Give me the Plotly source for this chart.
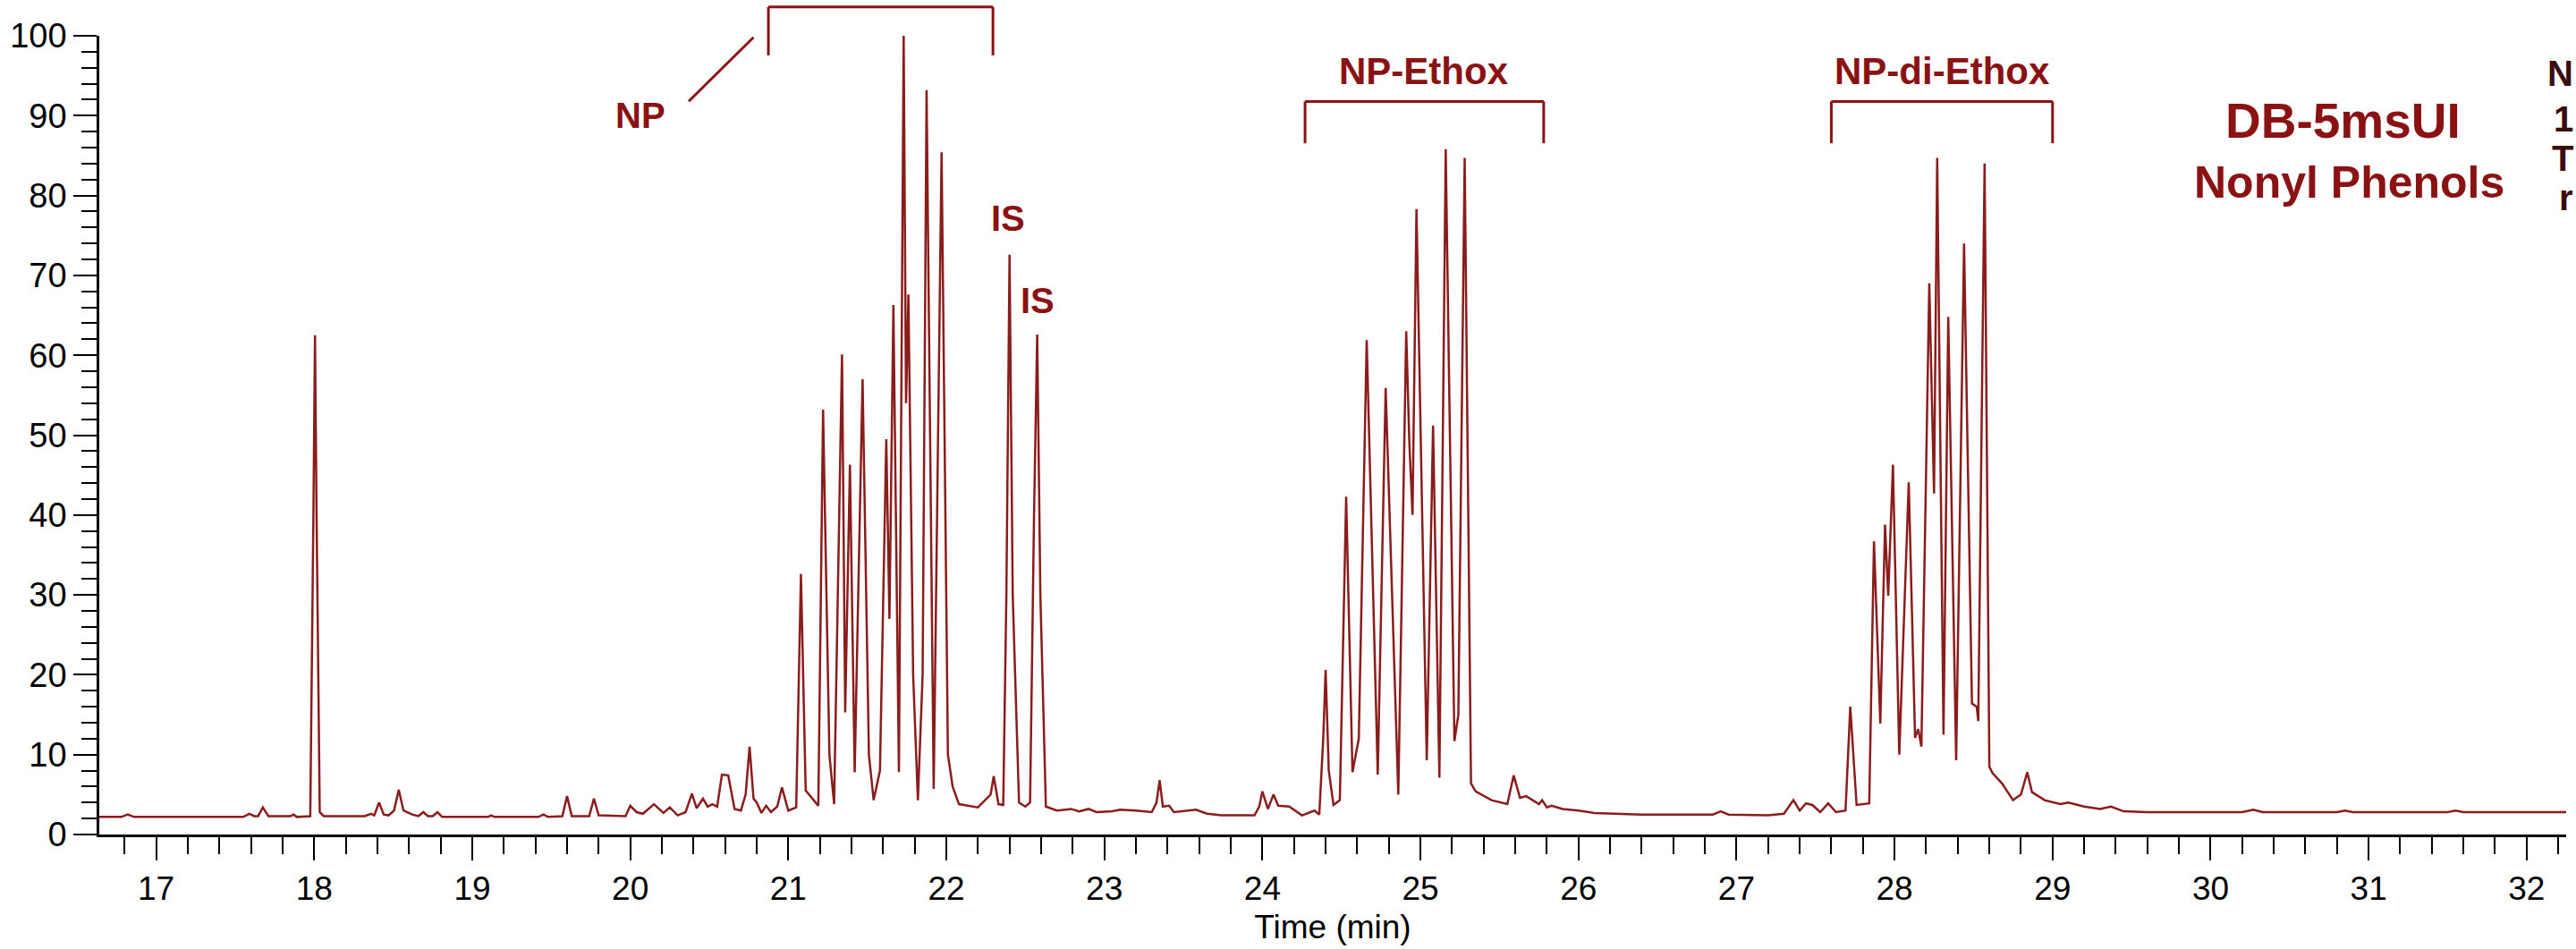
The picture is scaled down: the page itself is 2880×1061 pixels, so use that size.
import plotly.graph_objects as go

# Chromatogram trace vertices (time in min, relative abundance)
time_min = [
    16.64, 16.78, 16.82, 16.86, 17.55, 17.59, 17.62, 17.645, 17.675, 17.71,
    17.85, 17.87, 17.89, 17.975, 17.995, 18.005, 18.015, 18.035, 18.06, 18.32,
    18.36, 18.38, 18.41, 18.44, 18.47, 18.505, 18.535, 18.565, 18.62, 18.66,
    18.69, 18.72, 18.75, 18.78, 18.81, 19.10, 19.12, 19.14, 19.42, 19.45,
    19.48, 19.57, 19.60, 19.63, 19.74, 19.77, 19.80, 19.97, 20.00, 20.04,
    20.08, 20.15, 20.21, 20.25, 20.30, 20.35, 20.39, 20.42, 20.46, 20.49,
    20.52, 20.55, 20.58, 20.62, 20.66, 20.70, 20.73, 20.755, 20.78, 20.80,
    20.83, 20.86, 20.89, 20.93, 20.96, 21.00, 21.05, 21.08, 21.11, 21.15,
    21.19, 21.22, 21.26, 21.29, 21.34, 21.36, 21.39, 21.42, 21.47, 21.51,
    21.54, 21.58, 21.62, 21.64, 21.665, 21.70, 21.73, 21.745, 21.76, 21.79,
    21.82, 21.85, 21.875, 21.92, 21.97, 22.01, 22.025, 22.04, 22.08, 22.20,
    22.28, 22.30, 22.33, 22.36, 22.38, 22.40, 22.42, 22.46, 22.50, 22.53,
    22.555, 22.575, 22.595, 22.63, 22.70, 22.79, 22.84, 22.90, 22.95, 23.05,
    23.10, 23.20, 23.30, 23.33, 23.35, 23.37, 23.41, 23.44, 23.58, 23.65,
    23.74, 23.95, 23.98, 24.00, 24.035, 24.07, 24.10, 24.17, 24.25, 24.33,
    24.36, 24.385, 24.40, 24.42, 24.45, 24.49, 24.53, 24.57, 24.61, 24.66,
    24.73, 24.78, 24.86, 24.91, 24.93, 24.95, 24.975, 25.04, 25.08, 25.12,
    25.16, 25.215, 25.24, 25.28, 25.32, 25.35, 25.45, 25.55, 25.59, 25.63,
    25.67, 25.75, 25.77, 25.80, 25.83, 25.90, 26.00, 26.10, 26.40, 26.85,
    26.90, 26.95, 27.20, 27.30, 27.36, 27.40, 27.44, 27.48, 27.53, 27.58,
    27.63, 27.69, 27.72, 27.76, 27.84, 27.87, 27.91, 27.94, 27.96, 27.99,
    28.03, 28.09, 28.13, 28.15, 28.17, 28.22, 28.25, 28.27, 28.31, 28.34,
    28.39, 28.44, 28.49, 28.52, 28.53, 28.57, 28.60, 28.62, 28.68, 28.75,
    28.80, 28.84, 28.87, 28.95, 29.05, 29.10, 29.20, 29.30, 29.37, 29.45,
    29.60, 30.20, 30.27, 30.33, 30.80, 30.85, 30.90, 31.50, 31.55, 31.60,
    32.25,
]
abundance = [
    2.2, 2.2, 2.5, 2.2, 2.2, 2.6, 2.3, 2.3, 3.4, 2.3,
    2.3, 2.5, 2.2, 2.3, 40.0, 62.5, 40.0, 2.8, 2.3, 2.3,
    2.6, 2.4, 4.0, 2.5, 2.4, 3.0, 5.6, 3.0, 2.5, 2.3,
    2.8, 2.3, 2.3, 2.8, 2.2, 2.2, 2.4, 2.2, 2.2, 2.5,
    2.2, 2.3, 4.8, 2.3, 2.3, 4.5, 2.4, 2.3, 3.6, 2.8,
    2.6, 3.8, 2.7, 3.4, 2.4, 2.8, 5.1, 3.3, 4.5, 3.5,
    3.8, 3.5, 7.5, 7.4, 3.2, 3.0, 5.0, 11.0, 4.5, 4.0,
    2.7, 3.6, 2.8, 3.5, 5.9, 3.0, 3.4, 32.6, 5.5, 4.5,
    3.6, 53.2, 10.0, 3.8, 60.1, 15.3, 46.3, 7.8, 57.0, 10.0,
    4.3, 8.0, 49.5, 27.0, 66.3, 7.8, 100.0, 54.0, 67.6, 20.0,
    4.3, 20.0, 93.2, 5.7, 85.4, 10.0, 7.8, 6.0, 3.8, 3.4,
    5.0, 7.3, 3.8, 3.7, 30.0, 72.6, 30.0, 4.0, 3.5, 4.0,
    40.0, 62.6, 30.0, 3.5, 3.0, 3.2, 2.9, 3.2, 2.8, 2.9,
    3.1, 3.0, 2.8, 4.0, 6.8, 3.5, 3.6, 2.8, 3.1, 2.6,
    2.4, 2.4, 3.5, 5.4, 3.2, 5.0, 3.6, 3.5, 2.4, 3.0,
    2.5, 12.0, 20.6, 8.0, 3.7, 4.3, 42.3, 7.8, 12.0, 61.9,
    7.5, 55.9, 5.0, 63.0, 49.0, 40.0, 78.3, 9.3, 51.2, 7.1,
    85.8, 11.7, 15.0, 84.7, 6.4, 5.4, 4.3, 3.8, 7.4, 4.6,
    4.8, 3.8, 4.3, 3.4, 3.6, 3.2, 3.0, 2.7, 2.5, 2.5,
    2.9, 2.5, 2.4, 2.6, 4.3, 3.0, 3.9, 3.7, 2.8, 3.9,
    2.8, 3.0, 16.0, 3.7, 3.9, 36.7, 13.9, 38.8, 29.9, 46.3,
    10.0, 44.1, 12.1, 13.2, 11.0, 69.0, 42.7, 84.7, 12.5, 64.8,
    9.3, 74.0, 16.4, 16.0, 14.2, 84.0, 8.5, 7.7, 6.4, 4.3,
    5.0, 7.8, 5.3, 4.3, 3.8, 4.0, 3.5, 3.2, 3.5, 2.9,
    2.8, 2.8, 3.1, 2.8, 2.8, 3.0, 2.8, 2.8, 3.0, 2.8,
    2.8,
]

x_range = [16.64, 32.25]
y_ticks = [0, 10, 20, 30, 40, 50, 60, 70, 80, 90, 100]
x_ticks = list(range(17, 33))

# Group brackets: (label, start time, end time)
groups = [("NP-Ethox", 24.27, 25.78), ("NP-di-Ethox", 27.6, 29.0)]
np_bracket = (20.874, 22.295)

RED = "#8a1212"
FONT = "Arial, Liberation Sans, Helvetica, sans-serif"

fig = go.Figure()
fig.add_trace(go.Scatter(
    x=time_min, y=abundance, mode="lines",
    line=dict(color="#8b1c1c", width=2.5),
    hoverinfo="skip", showlegend=False,
))

shapes = []
def seg(x0, y0, x1, y1):
    shapes.append(dict(type="line", xref="x", yref="paper", x0=x0, y0=y0, x1=x1, y1=y1,
                       line=dict(color=RED, width=3)))

# NP bracket
yb0, yb1 = 0.9755, 1.036
seg(np_bracket[0], yb0, np_bracket[0], yb1)
seg(np_bracket[0], yb1, np_bracket[1], yb1)
seg(np_bracket[1], yb1, np_bracket[1], yb0)
# NP leader line
seg(20.37, 0.918, 20.78, 0.998)
# other brackets
gb0, gb1 = 0.8654, 0.9177
for name, a, b in groups:
    seg(a, gb0, a, gb1)
    seg(a, gb1, b, gb1)
    seg(b, gb1, b, gb0)

annotations = []
def label(text, x, y, size, color=RED, xref="x", xanchor="center"):
    annotations.append(dict(text="<b>%s</b>" % text, x=x, y=y, xref=xref, yref="paper",
                            showarrow=False, xanchor=xanchor, yanchor="middle",
                            font=dict(family=FONT, size=size, color=color)))

label("NP", 20.067, 0.900, 40)
label("IS", 22.393, 0.771, 40)
label("IS", 22.58, 0.669, 40)
for name, a, b in groups:
    label(name, (a + b) / 2, 0.9555, 42)
label("DB-5msUI", 30.84, 0.894, 55)
label("Nonyl Phenols", 30.88, 0.8165, 50)

# Text at the right edge of the picture (mostly cropped in the original)
for ch, yy in [("N", 0.953), ("1", 0.896), ("T", 0.847), ("r", 0.797)]:
    label(ch, 1.0035, yy, 40, color="#3a0c0c", xref="paper", xanchor="right")

fig.update_layout(
    width=2880, height=1061,
    margin=dict(l=110, r=11, t=40, b=122),
    paper_bgcolor="white", plot_bgcolor="white",
    font=dict(family=FONT, color="black", size=37),
    shapes=shapes, annotations=annotations,
    showlegend=False,
)
fig.update_xaxes(
    range=x_range, tickmode="array", tickvals=x_ticks,
    ticks="outside", ticklen=26, tickwidth=2, tickcolor="black",
    showline=True, linecolor="black", linewidth=2.5,
    showgrid=False, zeroline=False,
    tickfont=dict(family=FONT, size=37, color="black"),
    minor=dict(dtick=0.2, tick0=0, ticks="outside", ticklen=19, tickwidth=2, tickcolor="black", showgrid=False),
    title=dict(text="Time (min)", font=dict(family=FONT, size=37, color="black"), standoff=10),
)
fig.update_yaxes(
    range=[0, 100], tickmode="array", tickvals=y_ticks,
    ticks="outside", ticklen=26, tickwidth=2, tickcolor="black",
    showline=True, linecolor="black", linewidth=2.5,
    showgrid=False, zeroline=False,
    tickfont=dict(family=FONT, size=38, color="black"),
    minor=dict(dtick=2, tick0=0, ticks="outside", ticklen=17, tickwidth=2, tickcolor="black", showgrid=False),
)

fig.write_html("out.html", config={"displayModeBar": False},
               post_script="document.body.style.margin='0';document.body.style.overflow='hidden';")
